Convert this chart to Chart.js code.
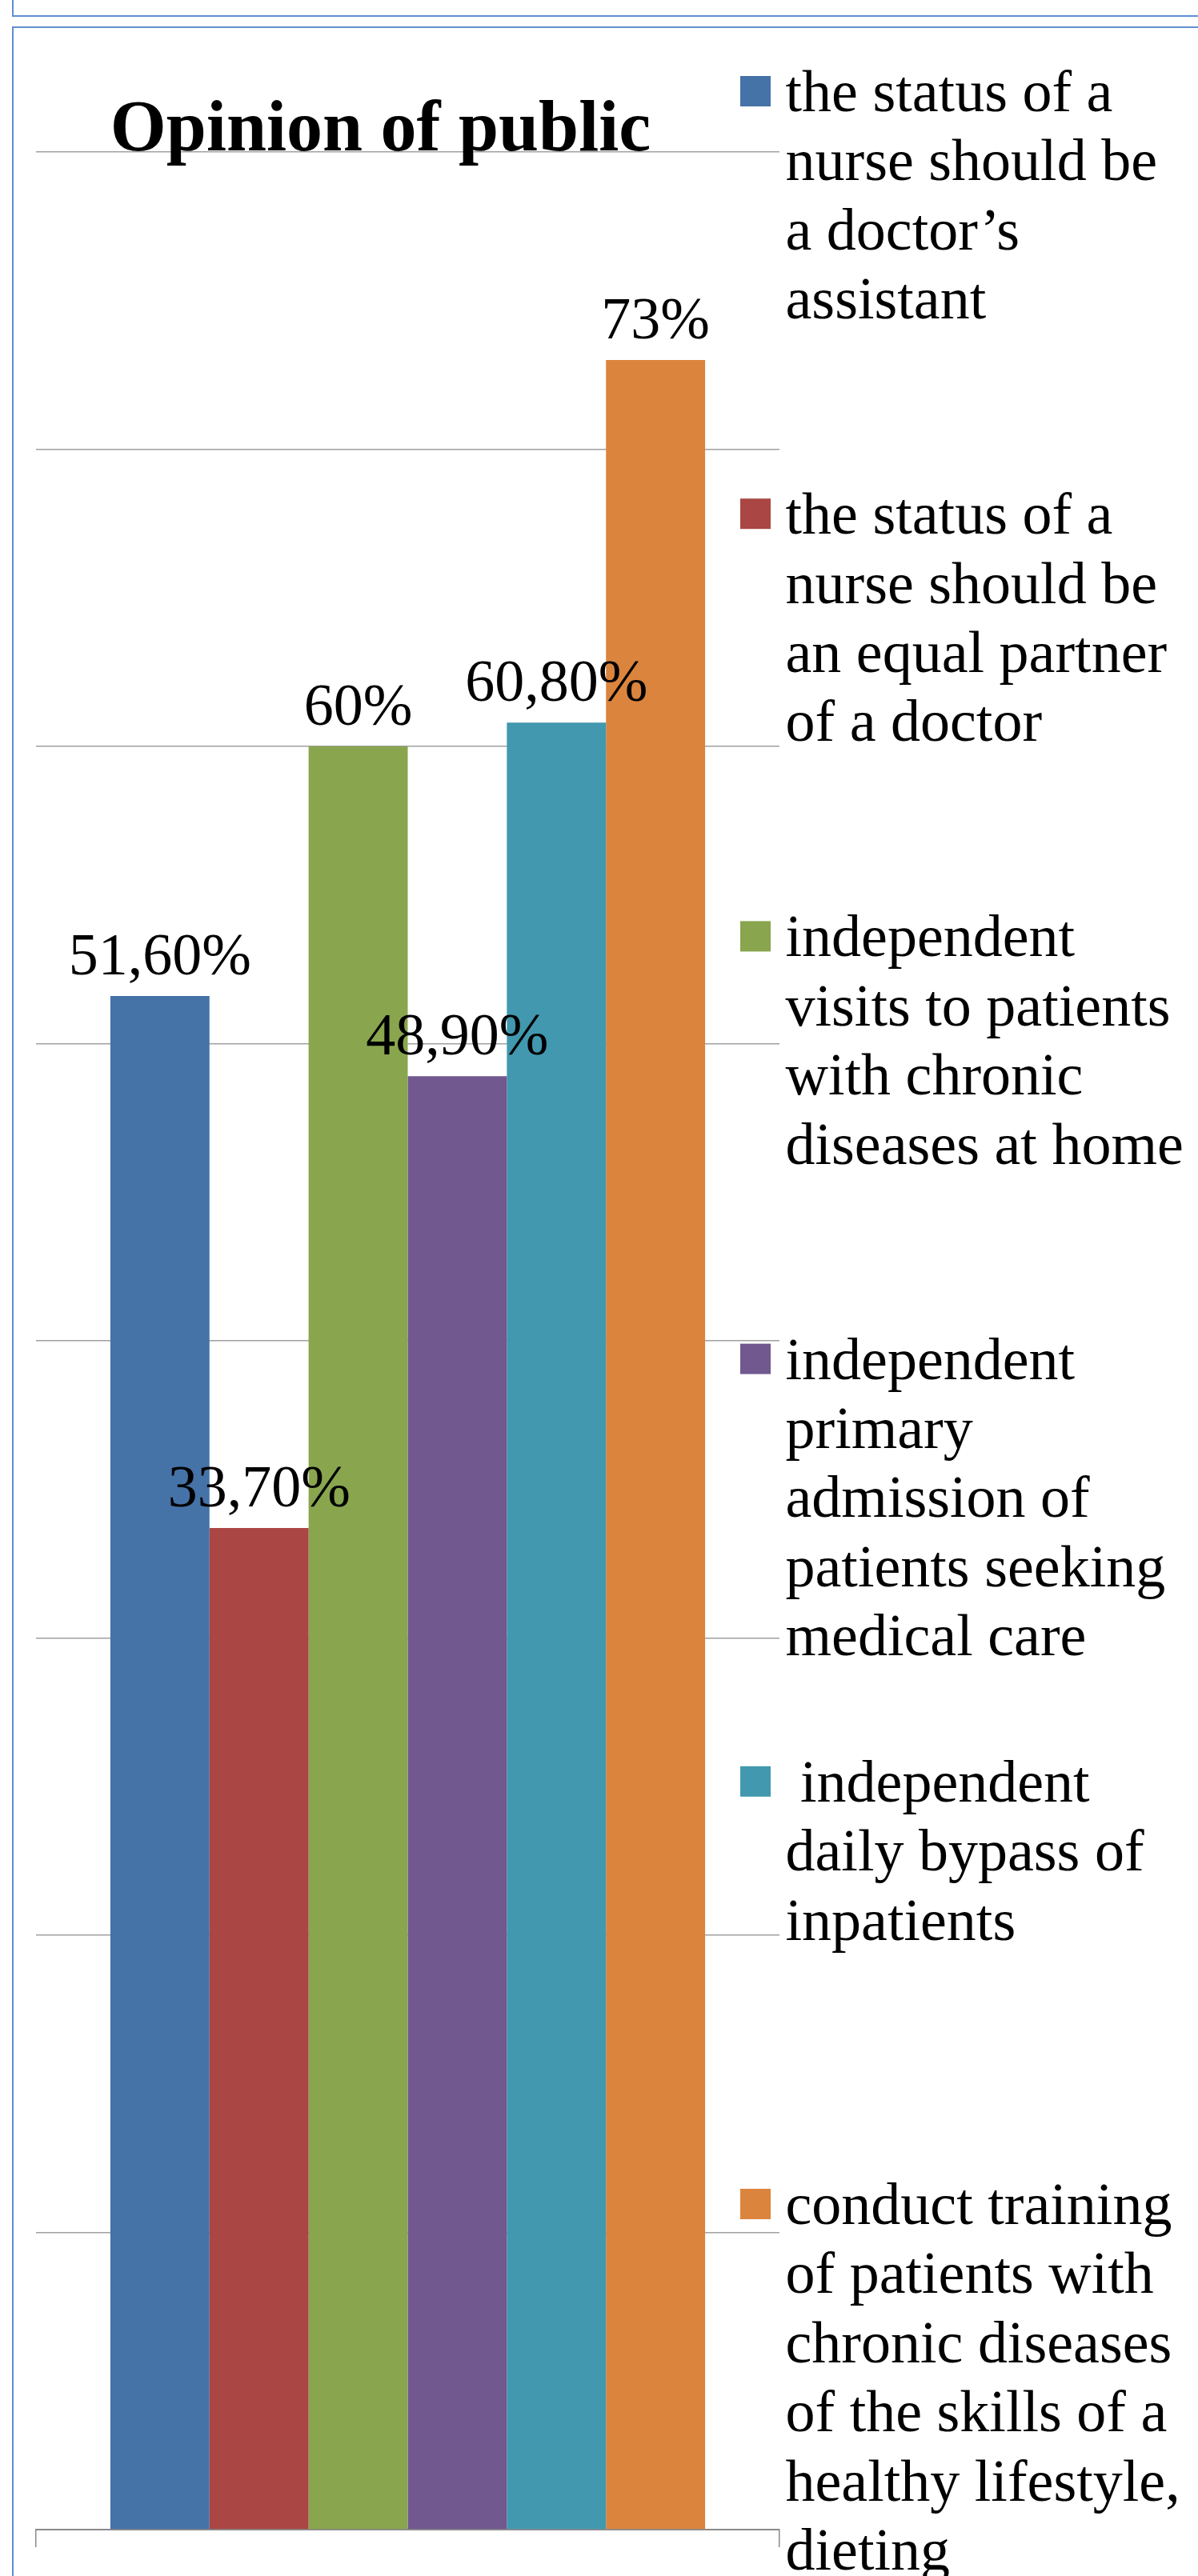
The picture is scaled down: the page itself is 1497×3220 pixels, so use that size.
<!DOCTYPE html>
<html>
<head>
<meta charset="utf-8">
<script src="https://cdn.jsdelivr.net/npm/chart.js@4/dist/chart.umd.min.js"></script>
<style>
  html, body { margin: 0; padding: 0; background: #ffffff; width: 1497px; height: 3220px; overflow: hidden; }
  #frameTop { position: absolute; left: 15px; top: 0; width: 1482px; height: 19px;
              border-left: 2px solid #5f8fd2; border-bottom: 2px solid #5f8fd2; }
  #frameMain { position: absolute; left: 15px; top: 33px; width: 1482px; height: 3187px;
               border-left: 2px solid #5f8fd2; border-top: 2px solid #5f8fd2; }
  #chart { position: absolute; left: 0; top: 0; display: block; }
</style>
</head>
<body>
<div id="frameTop"></div>
<div id="frameMain"></div>
<canvas id="chart" width="1497" height="3220"></canvas>
<script>
// ---- data ----
const chartTitle = 'Opinion of public';
const categories = [''];
const seriesNames = [
  ['the status of a', 'nurse should be', 'a doctor\u2019s', 'assistant'],
  ['the status of a', 'nurse should be', 'an equal partner', 'of a doctor'],
  ['independent', 'visits to patients', 'with chronic', 'diseases at home'],
  ['independent', 'primary', 'admission of', 'patients seeking', 'medical care'],
  [' independent', 'daily bypass of', 'inpatients'],
  ['conduct training', 'of patients with', 'chronic diseases', 'of the skills of a', 'healthy lifestyle,', 'dieting']
];
const seriesValues = [51.6, 33.7, 60, 48.9, 60.8, 73];
const valueLabels = ['51,60%', '33,70%', '60%', '48,90%', '60,80%', '73%'];
const seriesColors = ['#4572A7', '#AA4643', '#89A54E', '#71588F', '#4198AF', '#DB843D'];
const yMin = 0;
const yMax = 80;
const yStep = 10;

// ---- drawing ----
const SERIF = '"Liberation Serif", "Times New Roman", serif';

const overlayPlugin = {
  id: 'overlay',
  afterDatasetsDraw(chart, args, opts) {
    const ctx = chart.ctx;
    ctx.save();
    ctx.fillStyle = '#000';
    ctx.textAlign = 'center';
    ctx.textBaseline = 'alphabetic';
    ctx.font = opts.labelFont;
    chart.data.datasets.forEach((ds, i) => {
      const meta = chart.getDatasetMeta(i);
      meta.data.forEach((bar) => {
        ctx.fillText(valueLabels[i], bar.x, bar.y - opts.labelGap);
      });
    });
    ctx.restore();
  },
  afterDraw(chart, args, opts) {
    const ctx = chart.ctx;
    ctx.save();
    // title (overlaps the top gridline, as in the original)
    ctx.fillStyle = '#000';
    ctx.font = opts.titleFont;
    ctx.textAlign = 'center';
    ctx.textBaseline = 'alphabetic';
    ctx.fillText(chartTitle, opts.titleX, opts.titleY);
    // legend, entries evenly spaced
    const lg = opts.legend;
    ctx.font = lg.font;
    ctx.textAlign = 'left';
    chart.data.datasets.forEach((ds, i) => {
      const base = lg.firstBaseline + i * lg.entryStep;
      ctx.fillStyle = ds.backgroundColor;
      ctx.fillRect(lg.boxX, base - lg.boxOffset, lg.boxSize, lg.boxSize);
      ctx.fillStyle = '#000';
      seriesNames[i].forEach((line, j) => {
        ctx.fillText(line, lg.textX, base + j * lg.lineHeight);
      });
    });
    ctx.restore();
  }
};

const datasets = seriesValues.map((v, i) => ({
  label: seriesNames[i].join(' ').trim(),
  data: [v],
  backgroundColor: seriesColors[i],
  borderWidth: 0
}));

new Chart(document.getElementById('chart'), {
  type: 'bar',
  data: { labels: categories, datasets: datasets },
  options: {
    responsive: false,
    animation: false,
    devicePixelRatio: 1,
    layout: { padding: { left: 45, right: 523, top: 190, bottom: 36 } },
    datasets: { bar: { categoryPercentage: 0.8, barPercentage: 1.0 } },
    scales: {
      x: {
        type: 'category',
        offset: true,
        ticks: { display: false },
        grid: { display: true, offset: true, drawOnChartArea: false, drawTicks: true, tickLength: 22,
                color: '#8a8a8a', lineWidth: 1.5 },
        border: { display: true, color: '#8a8a8a', width: 2 }
      },
      y: {
        min: yMin,
        max: yMax,
        ticks: { display: false, stepSize: yStep },
        grid: { color: '#a0a0a0', lineWidth: 1.5, drawTicks: false },
        border: { display: false }
      }
    },
    plugins: {
      legend: { display: false },
      tooltip: { enabled: false },
      title: { display: false },
      overlay: {
        labelFont: '74px ' + SERIF,
        labelGap: 27,
        titleFont: 'bold 90px ' + SERIF,
        titleX: 475.5,
        titleY: 188,
        legend: {
          font: '74px ' + SERIF,
          firstBaseline: 139,
          entryStep: 528.2,
          lineHeight: 86.4,
          boxX: 925,
          boxSize: 38,
          boxOffset: 44,
          textX: 981.5
        }
      }
    }
  },
  plugins: [overlayPlugin]
});
</script>
</body>
</html>
